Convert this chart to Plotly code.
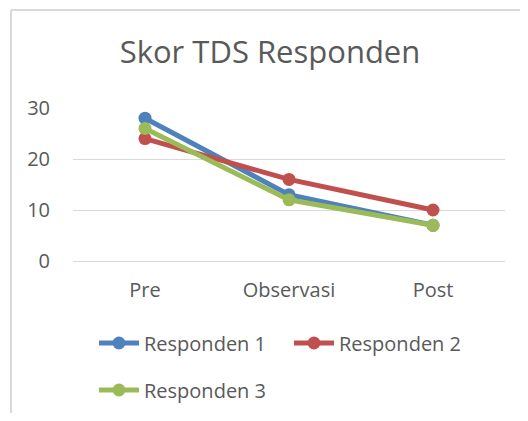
import plotly.graph_objects as go

categories = ["Pre", "Observasi", "Post"]
responden_1 = [28, 13, 7]
responden_2 = [24, 16, 10]
responden_3 = [26, 12, 7]
series_names = ["Responden 1", "Responden 2", "Responden 3"]
colors = ["#4f81bd", "#c0504d", "#9bbb59"]
legends = ["legend", "legend", "legend2"]

OFF = 8  # default body margin of the page
W, H = 528 - 2 * OFF, 421 - 2 * OFF
L, R, T, B = 73 - OFF, 505 - OFF, 108 - OFF, 261 - OFF

fig = go.Figure()
for name, vals, c, lg in zip(series_names, [responden_1, responden_2, responden_3], colors, legends):
    fig.add_trace(go.Scatter(
        x=categories, y=vals, name=name, mode="lines+markers",
        line=dict(color=c, width=5), marker=dict(color=c, size=13),
        cliponaxis=False, legend=lg,
    ))

px = lambda x: (x - OFF - L) / (R - L)
py = lambda y: (B - (y - OFF)) / (B - T)

legend_common = dict(orientation="h", xanchor="left", yanchor="middle",
                     font=dict(size=20, color="#595959"), itemwidth=40,
                     entrywidth=140, bgcolor="rgba(0,0,0,0)")
fig.update_layout(
    width=W, height=H,
    margin=dict(l=L, r=W - R, t=T, b=H - B, autoexpand=False),
    paper_bgcolor="white", plot_bgcolor="white",
    font=dict(family="Open Sans, Calibri, sans-serif", color="#595959", size=20),
    title=dict(text="Skor TDS Responden", x=(270 - OFF) / W, xanchor="center",
               xref="container", y=1 - (52 - OFF) / H, yanchor="middle",
               font=dict(size=31, color="#595959")),
    xaxis=dict(showgrid=False, showline=False, ticks="outside", ticklen=11,
               tickcolor="rgba(0,0,0,0)", tickfont=dict(size=20),
               range=[-0.5, 2.5]),
    yaxis=dict(range=[0, 30], tickvals=[0, 10, 20, 30], showgrid=True,
               gridcolor="#d9d9d9", gridwidth=1, zeroline=True, zerolinecolor="#d9d9d9",
               zerolinewidth=1, showline=False, ticks="outside", ticklen=18,
               tickcolor="rgba(0,0,0,0)", tickfont=dict(size=20)),
    showlegend=True,
    legend=dict(x=px(94), y=py(343), **legend_common),
    legend2=dict(x=px(94), y=py(390), **legend_common),
)
# chart border (top and left visible)
fig.add_shape(type="line", xref="paper", yref="paper", x0=px(11), x1=px(560),
              y0=py(10), y1=py(10), line=dict(color="#d9d9d9", width=2))
fig.add_shape(type="line", xref="paper", yref="paper", x0=px(11), x1=px(11),
              y0=py(10), y1=py(440), line=dict(color="#d9d9d9", width=2))

fig.write_html("out.html")
